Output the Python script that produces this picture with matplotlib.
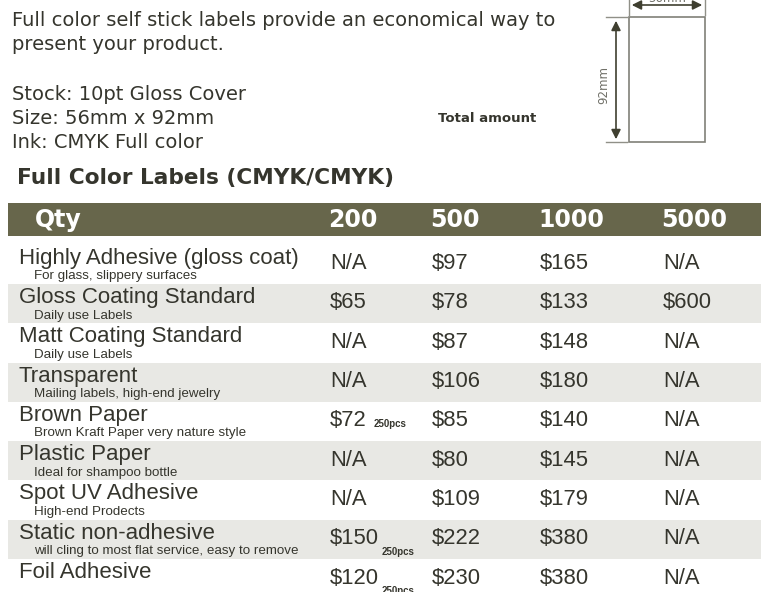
import matplotlib
matplotlib.use('Agg')
import matplotlib.pyplot as plt
from matplotlib.patches import Rectangle

# table content
products = ["Highly Adhesive (gloss coat)", "Gloss Coating Standard", "Matt Coating Standard",
            "Transparent", "Brown Paper", "Plastic Paper", "Spot UV Adhesive",
            "Static non-adhesive", "Foil Adhesive"]
notes = ["For glass, slippery surfaces", "Daily use Labels", "Daily use Labels",
         "Mailing labels, high-end jewelry", "Brown Kraft Paper very nature style",
         "Ideal for shampoo bottle", "High-end Prodects",
         "will cling to most flat service, easy to remove", ""]
qty = ["200", "500", "1000", "5000"]
price_200 = ["N/A", "$65", "N/A", "N/A", "$72", "N/A", "N/A", "$150", "$120"]
price_500 = ["$97", "$78", "$87", "$106", "$85", "$80", "$109", "$222", "$230"]
price_1000 = ["$165", "$133", "$148", "$180", "$140", "$145", "$179", "$380", "$380"]
price_5000 = ["N/A", "$600", "N/A", "N/A", "N/A", "N/A", "N/A", "N/A", "N/A"]
pcs_note = ["", "", "", "", "250pcs", "", "", "250pcs", "250pcs"]

intro = ["Full color self stick labels provide an economical way to",
         "present your product."]
specs = ["Stock: 10pt Gloss Cover", "Size: 56mm x 92mm", "Ink: CMYK Full color"]

olive = '#67664b'
txt = '#35352d'
stripe = '#e8e8e4'

fig = plt.figure(figsize=(7.65, 5.92), dpi=100)
ax = fig.add_axes([0, 0, 1, 1])
ax.set_xlim(0, 765)
ax.set_ylim(592, 0)
ax.axis('off')

# intro text
for i, line in enumerate(intro):
    ax.text(12, 20 + 25 * i, line, fontsize=14, color=txt, va='center', family='DejaVu Sans')
for i, line in enumerate(specs):
    ax.text(12, 95 + 23.5 * i, line, fontsize=14, color=txt, va='center', family='DejaVu Sans')
ax.text(17, 178, "Full Color Labels (CMYK/CMYK)", fontsize=15.6, fontweight='bold',
        color=txt, va='center', family='DejaVu Sans')
ax.text(438, 118, "Total amount", fontsize=9.5, fontweight='bold', color=txt, va='center')

# label size diagram
dcol = '#3f3f30'
ax.add_patch(Rectangle((629, 17), 76, 125, fill=False, ec='#808078', lw=1.2))
ax.annotate('', xy=(616, 18), xytext=(616, 142),
            arrowprops=dict(arrowstyle='<|-|>', color=dcol, lw=1.2, mutation_scale=14))
ax.plot([606, 627], [17, 17], color='#909088', lw=1)
ax.plot([606, 627], [142, 142], color='#909088', lw=1)
ax.annotate('', xy=(629, 5), xytext=(705, 5),
            arrowprops=dict(arrowstyle='<|-|>', color=dcol, lw=1.2, mutation_scale=14))
ax.plot([629, 629], [0, 15], color='#909088', lw=1)
ax.plot([705, 705], [0, 15], color='#909088', lw=1)
ax.text(667, -1, "56mm", fontsize=8.5, color='#707068', ha='center', va='center')
ax.text(604, 85, "92mm", fontsize=8.5, color='#707068', ha='center', va='center', rotation=90)

# header band
ax.add_patch(Rectangle((8, 203), 753, 33, color=olive, lw=0))
ax.text(35, 220, "Qty", fontsize=17, fontweight='bold', color='white', va='center')
col_x = [330, 432, 540, 663]
for x, q in zip(col_x, qty):
    ax.text(x - 2, 220, q, fontsize=17, fontweight='bold', color='white', va='center')

# rows
row_h = 39.3
row_top = [244.7 + row_h * k for k in range(len(products))]
stripe_rows = [k for k in range(len(products)) if k % 2 == 1]
ax.barh([row_top[k] + row_h / 2 for k in stripe_rows], 753, height=row_h, left=8,
        color=stripe, lw=0)

cols = [price_200, price_500, price_1000, price_5000]
for k, t in enumerate(row_top):
    ax.text(19, t + 13.5, products[k], fontsize=16, color=txt, va='center', family='Liberation Sans')
    if notes[k]:
        ax.text(34, t + 31.5, notes[k], fontsize=9.6, color=txt, va='center', family='Liberation Sans')
    for x, c in zip(col_x, cols):
        ax.text(x, t + 19, c[k], fontsize=15.8, color=txt, va='center', family='Liberation Sans')
    if pcs_note[k]:
        if k == 4:
            ax.text(374, t + 22, pcs_note[k], fontsize=7, fontweight='bold', color=txt,
                    va='center', family='Liberation Sans')
        else:
            ax.text(382, t + 32, pcs_note[k], fontsize=7, fontweight='bold', color=txt,
                    va='center', family='Liberation Sans')

fig.savefig('out.png', dpi=100)
